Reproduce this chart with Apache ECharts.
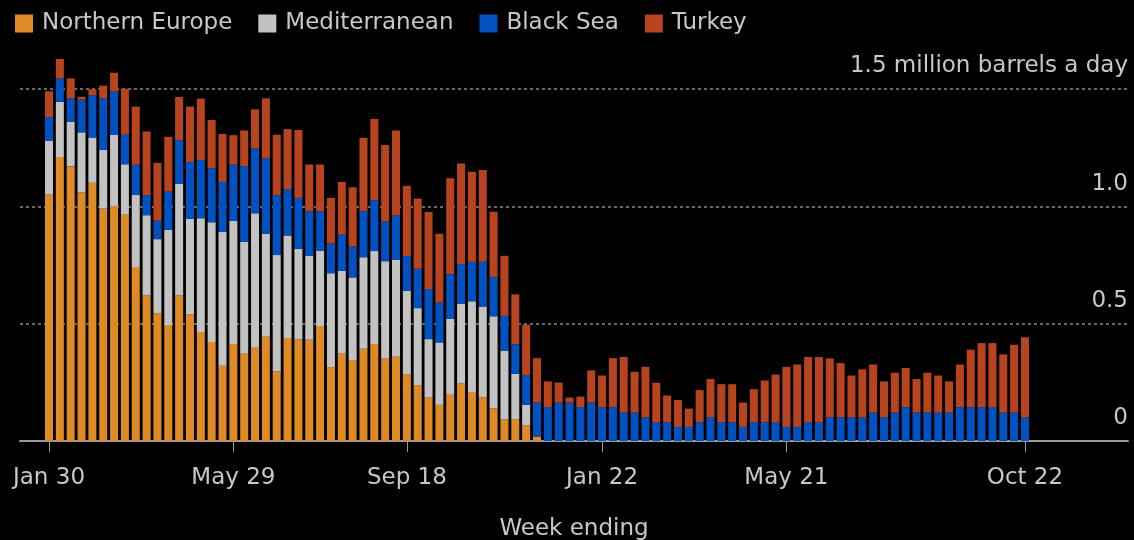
<!DOCTYPE html>
<html>
<head>
<meta charset="utf-8">
<script src="https://cdn.jsdelivr.net/npm/echarts@6/dist/echarts.min.js"></script>
<style>html,body{margin:0;padding:0;background:#000;}#c{width:1134px;height:540px;}</style>
</head>
<body>
<div id="c"></div>
<script>
// Weekly categories: index 0 = week ending Jan 30 (2022), index 90 = Oct 22 (2023)
const tickWeeks = [0, 17, 33, 51, 68, 90];
const tickLabels = ['Jan 30', 'May 29', 'Sep 18', 'Jan 22', 'May 21', 'Oct 22'];
const seriesNames = ['Northern Europe', 'Mediterranean', 'Black Sea', 'Turkey'];

const northernEurope = [1.05,1.21,1.17,1.06,1.10,0.99,1.00,0.964,0.741,0.62,0.544,0.494,0.621,0.54,0.464,
  0.422,0.321,0.413,0.372,0.397,0.444,0.296,0.439,0.432,0.432,0.49,0.315,0.372,0.345,0.393,
  0.413,0.353,0.359,0.285,0.238,0.185,0.154,0.197,0.245,0.209,0.187,0.138,0.093,0.093,0.066,
  0.019,0,0,0,0,0,0,0,0,0,0,0,0,0,0,0,0,0,0,0,0,0,0,0,0,0,0,0,0,0,0,0,0,0,0,0,0,0,0,0,0,0,0,0,0,0];
const mediterranean = [0.23,0.235,0.19,0.255,0.193,0.25,0.304,0.215,0.307,0.342,0.316,0.405,0.474,0.406,0.485,
  0.51,0.569,0.524,0.476,0.573,0.439,0.496,0.437,0.387,0.357,0.321,0.40,0.353,0.352,0.39,
  0.396,0.413,0.413,0.355,0.328,0.249,0.266,0.323,0.34,0.386,0.386,0.393,0.292,0.193,0.089,
  0,0,0,0,0,0,0,0,0,0,0,0,0,0,0,0,0,0,0,0,0,0,0,0,0,0,0,0,0,0,0,0,0,0,0,0,0,0,0,0,0,0,0,0,0,0];
const blackSea = [0.10,0.10,0.10,0.14,0.18,0.221,0.186,0.126,0.129,0.085,0.079,0.164,0.187,0.243,0.248,
  0.23,0.214,0.241,0.323,0.276,0.321,0.256,0.197,0.217,0.19,0.168,0.127,0.154,0.132,0.196,
  0.217,0.17,0.19,0.148,0.168,0.213,0.17,0.191,0.169,0.169,0.191,0.168,0.148,0.126,0.126,
  0.145,0.144,0.164,0.164,0.144,0.164,0.144,0.144,0.121,0.121,0.101,0.08,0.08,0.06,0.06,
  0.08,0.101,0.08,0.08,0.06,0.08,0.08,0.08,0.06,0.06,0.08,0.08,0.101,0.101,0.101,
  0.101,0.121,0.101,0.121,0.144,0.121,0.121,0.121,0.121,0.144,0.144,0.144,0.144,0.121,0.121,0.101];
const turkey = [0.11,0.083,0.085,0.012,0.026,0.053,0.079,0.196,0.248,0.272,0.246,0.233,0.184,0.236,0.262,
  0.206,0.204,0.125,0.152,0.167,0.256,0.257,0.256,0.289,0.199,0.199,0.194,0.225,0.252,0.313,
  0.346,0.325,0.361,0.299,0.299,0.329,0.293,0.409,0.428,0.383,0.391,0.278,0.256,0.213,0.215,
  0.189,0.11,0.085,0.021,0.045,0.137,0.135,0.209,0.237,0.174,0.215,0.168,0.114,0.115,0.078,
  0.137,0.163,0.162,0.162,0.104,0.141,0.178,0.203,0.256,0.266,0.278,0.278,0.251,0.231,0.178,
  0.204,0.205,0.153,0.17,0.167,0.143,0.17,0.158,0.133,0.182,0.245,0.273,0.273,0.248,0.289,0.341];

// week categories (one per bar)
const weeks = northernEurope.map((_, i) => i);

const colors = ['#E08A25', '#C2C2C2', '#0052C2', '#B8441F'];
const FONT = 'DejaVu Sans';
const TXT = '#c8c8c8';

const allData = [northernEurope, mediterranean, blackSea, turkey];
const series = seriesNames.map((name, k) => ({
  name: name,
  type: 'bar',
  stack: 'total',
  xAxisIndex: 0,
  yAxisIndex: 0,
  barWidth: 8,
  itemStyle: { color: colors[k] },
  data: allData[k]
}));

// geometry: bars grid covers exactly the 91 week bands; frame grid is wider (axis line + gridlines)
const FRAME_L = 20, FRAME_R = 6, TOP = 42, BOTTOM = 99;
const BAND = 10.844;
const BAR_L = 49 - BAND / 2;
const BAR_R = 1134 - (BAR_L + BAND * weeks.length);

const chart = echarts.init(document.getElementById('c'), null, { renderer: 'canvas' });
chart.setOption({
  backgroundColor: '#000',
  animation: false,
  legend: {
    left: 10, top: 7,
    icon: 'rect',
    itemWidth: 18, itemHeight: 18,
    itemGap: 26,
    selectedMode: false,
    textStyle: { color: TXT, fontFamily: FONT, fontSize: 23, padding: [0, 0, 0, 4] },
    data: seriesNames
  },
  grid: [
    { left: BAR_L, right: BAR_R, top: TOP, bottom: BOTTOM, containLabel: false, outerBoundsMode: 'none' },
    { left: FRAME_L, right: FRAME_R, top: TOP, bottom: BOTTOM, containLabel: false, outerBoundsMode: 'none' }
  ],
  xAxis: [
    {
      gridIndex: 0,
      type: 'category',
      data: weeks,
      boundaryGap: true,
      axisLine: { show: false },
      axisTick: {
        show: true, alignWithLabel: true, length: 11,
        interval: function (i) { return tickWeeks.indexOf(i) >= 0; },
        lineStyle: { color: '#9a9a9a', width: 1 }
      },
      axisLabel: {
        color: TXT, fontFamily: FONT, fontSize: 23, margin: 26,
        interval: function (i) { return tickWeeks.indexOf(i) >= 0; },
        formatter: function (v, i) { const j = tickWeeks.indexOf(i); return j >= 0 ? tickLabels[j] : ''; }
      },
      splitLine: { show: false }
    },
    {
      gridIndex: 1,
      type: 'value',
      min: 0, max: 1,
      name: 'Week ending',
      nameLocation: 'middle',
      nameGap: 77,
      nameTextStyle: { color: TXT, fontFamily: FONT, fontSize: 23 },
      axisLine: { show: true, lineStyle: { color: '#9a9a9a', width: 2 } },
      axisTick: { show: false },
      axisLabel: { show: false },
      splitLine: { show: false }
    }
  ],
  yAxis: [
    {
      gridIndex: 0,
      type: 'value',
      min: 0, max: 1.7,
      show: false,
      splitLine: { show: false }
    },
    {
      gridIndex: 1,
      type: 'value',
      position: 'right',
      min: 0, max: 1.7, interval: 0.5,
      axisLine: { show: false },
      axisTick: { show: false },
      splitLine: { show: true, showMaxLine: false, showMinLine: false, lineStyle: { color: '#8a8a8a', width: 1.5, type: [3, 3] } },
      axisLabel: {
        inside: true,
        margin: 0,
        showMaxLabel: false,
        color: TXT, fontFamily: FONT, fontSize: 23,
        verticalAlign: 'bottom',
        lineHeight: 23,
        padding: [0, 0, 11, 0],
        formatter: function (v) {
          if (Math.abs(v - 1.5) < 1e-6) return '1.5 million barrels a day';
          if (v === 0) return '0';
          if (Math.abs(v - 1.7) < 1e-6) return '';
          return v.toFixed(1);
        }
      }
    }
  ],
  series: series
});
</script>
</body>
</html>
